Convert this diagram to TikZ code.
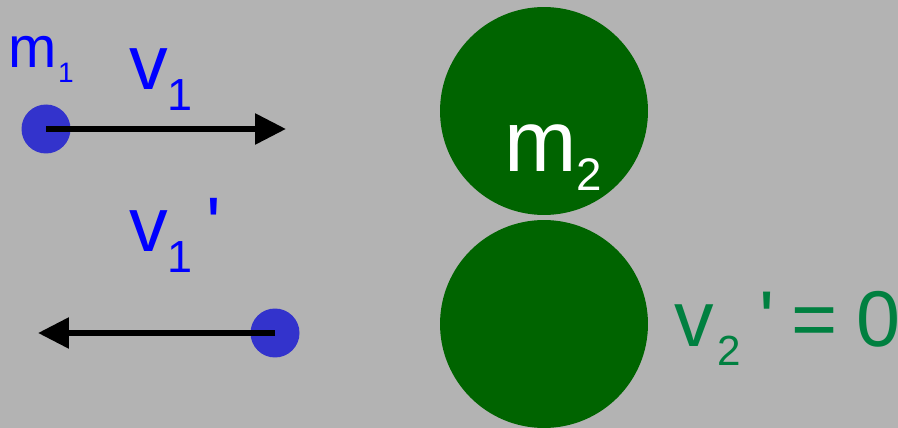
\documentclass[tikz,border=0pt]{standalone}
\usepackage{fontspec}
\setmainfont{Liberation Sans}
\usepackage{xcolor}
\usepackage{tikz}
\usetikzlibrary{arrows.meta}
\definecolor{bggray}{RGB}{179, 179, 179}
\definecolor{ballblue}{RGB}{51, 51, 204}
\definecolor{labelblue}{RGB}{0, 0, 255}
\definecolor{balldarkgreen}{RGB}{0, 100, 0}
\definecolor{labelgreen}{RGB}{0, 128, 64}

\tikzset{
  smallball/.style={circle, fill=ballblue, minimum size=0.98cm, inner sep=0pt},
  bigball/.style={circle, fill=balldarkgreen, minimum size=4.16cm, inner sep=0pt},
  velarrow/.style={line width=3.4pt, -{Triangle[length=17.6pt, width=17pt]}},
  lbl/.style={anchor=base west, inner sep=0pt, outer sep=0pt},
}

\begin{document}
\begin{tikzpicture}[x=0.02cm, y=-0.02cm]
\fill[bggray] (0,0) rectangle (898,428);
\useasboundingbox (0,0) rectangle (898,428);

% Balls before and after the collision
\node[smallball] (ball1) at (46,129) {};
\node[smallball] (ball1after) at (275,333) {};
\node[bigball] (ball2) at (544,111) {};
\node[bigball] (ball2after) at (544,324) {};

% Velocity arrows
\coordinate (tip1) at (286,129);
\coordinate (tip1after) at (38,333);
\draw[velarrow] (ball1.center) -- (tip1);
\draw[velarrow] (ball1after.center) -- (tip1after);

% Labels
\node[lbl, text=labelblue] (labm1) at (9,68) {\fontsize{33}{33}\selectfont m\hspace{0.5pt}\raisebox{-8pt}{\fontsize{16}{16}\selectfont 1}};
\node[lbl, text=labelblue] (labv1) at (129,90) {\fontsize{44}{44}\selectfont v\raisebox{-11.4pt}{\fontsize{25.6}{25.6}\selectfont 1}};
\node[lbl, text=labelblue] (labv1after) at (129,252) {\fontsize{44}{44}\selectfont v\raisebox{-11.4pt}{\fontsize{25.6}{25.6}\selectfont 1}\hspace{8pt}\textquotesingle};
\node[lbl, text=white] (labm2) at (504,172) {\fontsize{49.5}{49.5}\selectfont m\raisebox{-10.8pt}{\fontsize{26}{26}\selectfont 2}};
\node[lbl, text=labelgreen] (labv2after) at (674,347) {\fontsize{45}{45}\selectfont v\hspace{2.3pt}\raisebox{-10.8pt}{\fontsize{24}{24}\selectfont 2}\hspace{10.5pt}\textquotesingle\hspace{9.5pt}=\hspace{11pt}0};
\end{tikzpicture}
\end{document}
